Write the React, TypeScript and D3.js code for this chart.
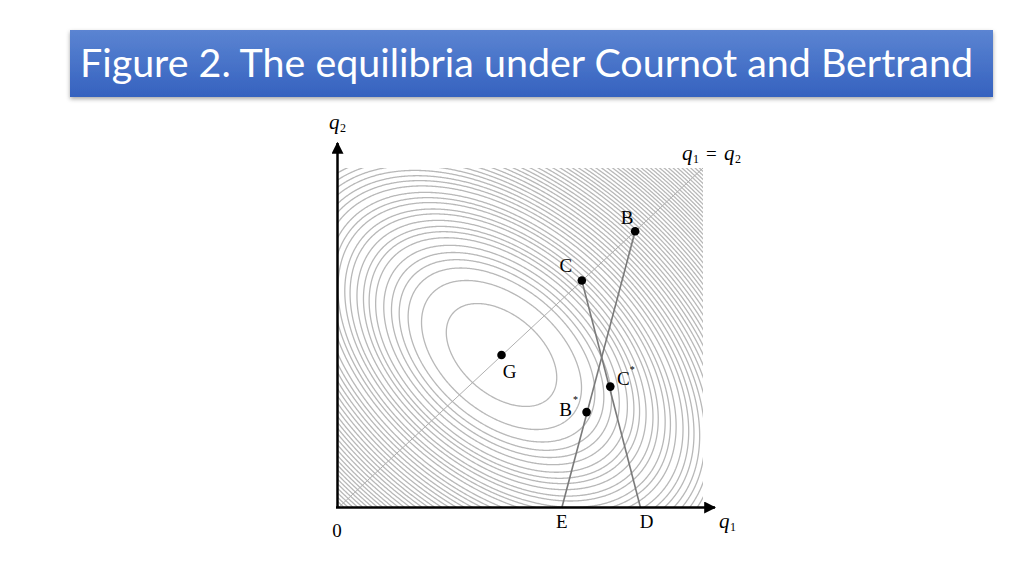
import React, { useMemo } from "react";
import * as d3 from "d3";

// equilibrium points (q1, q2)
const pointNames = ["B", "C", "G", "B", "C"];
const pointQ1 = [0.814, 0.668, 0.448, 0.681, 0.746];
const pointQ2 = [0.814, 0.669, 0.45, 0.282, 0.357];

// reaction lines: from the q1 axis up to a point on the diagonal
const lineNames = ["E", "D"];
const lineStartQ1 = [0.613, 0.829];
const lineEndIdx = [0, 1];

// iso-welfare rings around G: elliptical radius of each ring
const ringLevels = [
    0.136, 0.197, 0.23, 0.252, 0.271, 0.29, 0.31, 0.326, 0.34, 0.356, 0.373,
    0.386, 0.403, 0.416, 0.43, 0.447, 0.461, 0.474, 0.488, 0.501, 0.514, 0.527,
    0.54, 0.553, 0.565, 0.577, 0.589, 0.601, 0.613, 0.625, 0.637, 0.648, 0.659,
    0.67, 0.681, 0.692, 0.703, 0.714, 0.725, 0.736, 0.746, 0.756, 0.766, 0.776,
    0.786, 0.796, 0.806, 0.816, 0.826, 0.836, 0.846, 0.856, 0.866, 0.876, 0.886,
    0.896, 0.906, 0.916, 0.926, 0.936, 0.946, 0.956, 0.966,
];
// semi-axis factors along the diagonal and across it
const ringAlong = 0.834;
const ringAcross = 1.334;

const title = "Figure 2. The equilibria under Cournot and Bertrand";

const x = d3.scaleLinear([0, 1], [338, 703]);
const y = d3.scaleLinear([0, 1], [508, 168]);

const serif = "'Liberation Serif', 'Times New Roman', serif";

export default function App() {
    const rings = useMemo(() => {
        const pad = 0.05;
        const nx = 420;
        const ny = 400;
        const span = 1 + 2 * pad;
        const g1 = pointQ1[2];
        const g2 = pointQ2[2];
        const values = new Array(nx * ny);
        for (let j = 0; j < ny; j++) {
            for (let i = 0; i < nx; i++) {
                const q1 = -pad + ((i + 0.5) * span) / nx;
                const q2 = 1 + pad - ((j + 0.5) * span) / ny;
                const u = (q1 - g1 + (q2 - g2)) / Math.SQRT2;
                const v = (q1 - g1 - (q2 - g2)) / Math.SQRT2;
                values[j * nx + i] = Math.sqrt(
                    (u * u) / (ringAlong * ringAlong) + (v * v) / (ringAcross * ringAcross)
                );
            }
        }
        const contours = d3.contours().size([nx, ny]).thresholds(ringLevels)(values);
        const proj = d3.geoTransform({
            point(px: number, py: number) {
                // @ts-ignore
                this.stream.point(x(-pad + (px * span) / nx), y(1 + pad - (py * span) / ny));
            },
        });
        const path = d3.geoPath(proj);
        return contours.map((c: any) => path(c));
    }, []);

    return (
        <svg
            width={1024}
            height={576}
            style={{ position: "absolute", left: 0, top: 0, background: "#fff" }}
        >
            <defs>
                <linearGradient id="banner" x1="0" y1="0" x2="0" y2="1">
                    <stop offset="0%" stopColor="#5b84d2" />
                    <stop offset="100%" stopColor="#3562bf" />
                </linearGradient>
                <filter id="shadow" x="-5%" y="-20%" width="110%" height="150%">
                    <feDropShadow dx="0" dy="2" stdDeviation="2" floodColor="#000" floodOpacity="0.35" />
                </filter>
                <clipPath id="field">
                    <rect x={x(0)} y={y(1)} width={x(1) - x(0)} height={y(0) - y(1)} />
                </clipPath>
                <marker id="arrow" viewBox="0 0 10 10" refX="9" refY="5" markerWidth="12" markerHeight="12" markerUnits="userSpaceOnUse" orient="auto">
                    <path d="M0,0 L10,5 L0,10 Z" fill="#000" />
                </marker>
            </defs>

            {/* title banner */}
            <rect x={70} y={30} width={923} height={67} fill="url(#banner)" filter="url(#shadow)" />
            <text
                x={80}
                y={77}
                fill="#fff"
                fontSize={38}
                fontFamily="Lato, 'Open Sans', sans-serif"
                textLength={893}
                lengthAdjust="spacingAndGlyphs"
            >
                {title}
            </text>

            {/* rings */}
            <g clipPath="url(#field)">
                {rings.map((d: any, i: number) => (
                    <path key={`ring${i}`} d={d} fill="none" stroke="#b8b8b8" strokeWidth={1.3} />
                ))}
            </g>

            {/* q1 = q2 diagonal */}
            <line x1={x(0)} y1={y(0)} x2={x(1)} y2={y(1)} stroke="#b0b0b0" strokeWidth={1} />

            {/* reaction lines */}
            {lineNames.map((name, i) => (
                <line
                    key={`rl${i}`}
                    x1={x(lineStartQ1[i])}
                    y1={y(0)}
                    x2={x(pointQ1[lineEndIdx[i]])}
                    y2={y(pointQ2[lineEndIdx[i]])}
                    stroke="#7a7a7a"
                    strokeWidth={1.6}
                />
            ))}

            {/* axes */}
            <line x1={337.5} y1={y(0)} x2={337.5} y2={143} stroke="#000" strokeWidth={2.5} markerEnd="url(#arrow)" />
            <line x1={336} y1={507.5} x2={715} y2={507.5} stroke="#000" strokeWidth={2.5} markerEnd="url(#arrow)" />

            {/* points */}
            {pointNames.map((name, i) => (
                <circle key={`pt${i}`} cx={x(pointQ1[i])} cy={y(pointQ2[i])} r={4.3} fill="#000" />
            ))}

            <g fontFamily={serif} fontSize={19} fill="#000" textAnchor="middle">
                <text x={x(pointQ1[0]) - 8} y={224}>{pointNames[0]}</text>
                <text x={x(pointQ1[1]) - 16} y={272}>{pointNames[1]}</text>
                <text x={x(pointQ1[2]) + 8} y={378}>{pointNames[2]}</text>
                <text x={x(pointQ1[3]) - 21} y={416}>{pointNames[3]}</text>
                <text x={x(pointQ1[3]) - 11} y={403} fontSize={10}>*</text>
                <text x={x(pointQ1[4]) + 13} y={385}>{pointNames[4]}</text>
                <text x={x(pointQ1[4]) + 22} y={373} fontSize={10}>*</text>
                {lineNames.map((name, i) => (
                    <text key={`ln${i}`} x={x(lineStartQ1[i]) + (i === 1 ? 6 : 0)} y={528}>
                        {name}
                    </text>
                ))}
                <text x={337} y={537}>0</text>
            </g>

            {/* axis titles */}
            <g fontFamily={serif} fill="#000">
                <text x={719} y={528} fontSize={21} fontStyle="italic">q</text>
                <text x={730} y={531} fontSize={12}>1</text>
                <text x={329} y={129} fontSize={21} fontStyle="italic">q</text>
                <text x={340} y={132} fontSize={12}>2</text>
                <text x={682} y={160} fontSize={21} fontStyle="italic">q</text>
                <text x={693} y={163} fontSize={12}>1</text>
                <text x={706} y={160} fontSize={19}>=</text>
                <text x={724} y={160} fontSize={21} fontStyle="italic">q</text>
                <text x={735} y={163} fontSize={12}>2</text>
            </g>
        </svg>
    );
}
